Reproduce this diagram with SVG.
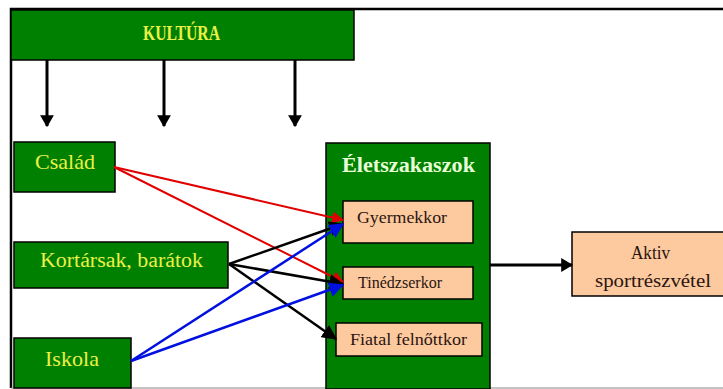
<svg xmlns="http://www.w3.org/2000/svg" width="723" height="389" viewBox="0 0 723 389">
<style>
.g{fill:#008000;stroke:#000;stroke-width:1.5}
.p{fill:#fcca9e;stroke:#000;stroke-width:1.5}
.yt{font-family:"Liberation Serif",serif;fill:#ecf048;text-anchor:middle}
.bt{font-family:"Liberation Serif",serif;fill:#2a1410;text-anchor:middle}
</style>
<defs>
<marker id="ak" markerWidth="4" markerHeight="4.6" refX="3.6" refY="2.3" orient="auto" markerUnits="strokeWidth"><path d="M0,0 L4,2.3 L0,4.6 Z" fill="#000"/></marker>
<marker id="ar" markerWidth="6" markerHeight="6" refX="5.5" refY="3" orient="auto" markerUnits="strokeWidth"><path d="M0,0 L6,3 L0,6 Z" fill="#e00000"/></marker>
<marker id="ab" markerWidth="6" markerHeight="6" refX="5.5" refY="3" orient="auto" markerUnits="strokeWidth"><path d="M0,0 L6,3 L0,6 Z" fill="#0010e0"/></marker>
<marker id="ak2" markerWidth="6" markerHeight="6" refX="5.5" refY="3" orient="auto" markerUnits="strokeWidth"><path d="M0,0 L6,3 L0,6 Z" fill="#000"/></marker>
</defs>
<rect width="723" height="389" fill="#fff"/>
<path d="M11,388 L11,9 L723,9" fill="none" stroke="#000" stroke-width="2.5"/>
<line x1="11" y1="388" x2="723" y2="388" stroke="#888" stroke-width="1"/>
<g id="kultura"><rect class="g" x="11" y="10" width="343" height="50"/><text class="yt" x="181.5" y="40" style="font-size:22px;font-weight:bold" textLength="77" lengthAdjust="spacingAndGlyphs">KULTÚRA</text></g>
<g id="csalad"><rect class="g" x="14" y="142" width="101" height="50"/><text class="yt" x="65" y="169" style="font-size:21px" textLength="60" lengthAdjust="spacingAndGlyphs">Család</text></g>
<g id="kortarsak"><rect class="g" x="14" y="242" width="214" height="46"/><text class="yt" x="121.5" y="267" style="font-size:20px" textLength="163" lengthAdjust="spacingAndGlyphs">Kortársak, barátok</text></g>
<g id="iskola"><rect class="g" x="14" y="338" width="117" height="50"/><text class="yt" x="72" y="366" style="font-size:22px" textLength="54" lengthAdjust="spacingAndGlyphs">Iskola</text></g>
<g id="eletszakaszok"><rect class="g" x="326" y="143" width="164" height="246"/><text x="408.5" y="172" style="font-family:'Liberation Serif',serif;font-size:21px;font-weight:bold" fill="#e8ffd8" text-anchor="middle" textLength="133" lengthAdjust="spacingAndGlyphs">Életszakaszok</text></g>
<g id="gyermekkor"><rect class="p" x="343" y="201" width="130" height="42"/><text class="bt" x="402" y="223" style="font-size:16px" textLength="90" lengthAdjust="spacingAndGlyphs">Gyermekkor</text></g>
<g id="tinedzserkor"><rect class="p" x="343" y="267" width="130" height="32"/><text class="bt" x="400" y="288" style="font-size:16px" textLength="84" lengthAdjust="spacingAndGlyphs">Tinédzserkor</text></g>
<g id="fiatal"><rect class="p" x="336" y="323" width="146" height="33"/><text class="bt" x="408.5" y="345" style="font-size:16px" textLength="117" lengthAdjust="spacingAndGlyphs">Fiatal felnőttkor</text></g>
<g id="aktiv"><rect class="p" x="572" y="232" width="160" height="64"/><text class="bt" x="650.5" y="259" style="font-size:18px" textLength="39" lengthAdjust="spacingAndGlyphs">Aktiv</text><text class="bt" x="653" y="287" style="font-size:18px" textLength="116" lengthAdjust="spacingAndGlyphs">sportrészvétel</text></g>
<g id="connectors" fill="none">
<g stroke="#000" stroke-width="3" marker-end="url(#ak)">
<line x1="47" y1="60" x2="47" y2="126"/>
<line x1="164" y1="60" x2="164" y2="126"/>
<line x1="295" y1="60" x2="295" y2="126"/>
<line x1="490" y1="265" x2="572" y2="265"/>
</g>
<g stroke="#e00000" stroke-width="2" marker-end="url(#ar)">
<line x1="114" y1="167" x2="343" y2="220"/>
<line x1="114" y1="167" x2="343" y2="282"/>
</g>
<g stroke="#000" stroke-width="2.5" marker-end="url(#ak2)">
<line x1="229" y1="264" x2="343" y2="224"/>
<line x1="229" y1="264" x2="343" y2="284"/>
<line x1="229" y1="264" x2="336" y2="339"/>
</g>
<g stroke="#0010e0" stroke-width="2.5" marker-end="url(#ab)">
<line x1="131" y1="361" x2="343" y2="224"/>
<line x1="131" y1="361" x2="343" y2="285"/>
</g>
</g>
</svg>
